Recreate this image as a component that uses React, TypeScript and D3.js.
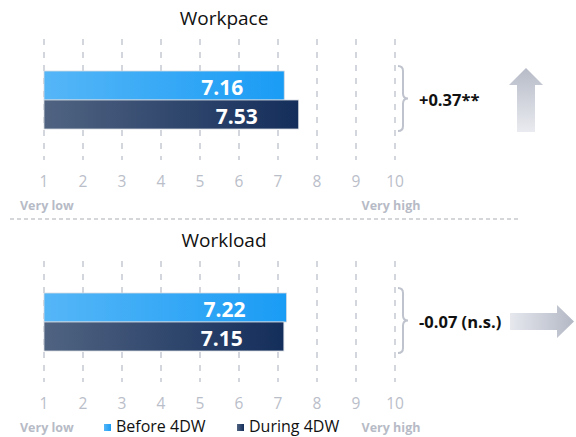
import React from "react";
import * as d3 from "d3";

const categories = ["Workpace", "Workload"];
const beforeValues = [7.16, 7.22];
const duringValues = [7.53, 7.15];
const diffLabels = ["+0.37**", "-0.07 (n.s.)"];
const arrowDirs = ["up", "right"];
const ticks = [1, 2, 3, 4, 5, 6, 7, 8, 9, 10];
const seriesNames = ["Before 4DW", "During 4DW"];

const W = 576;
const H = 437;
const FONT = "'Open Sans', 'Noto Sans', sans-serif";

export default function App() {
  const x = d3.scaleLinear().domain([1, 10]).range([44, 395]);
  const panelOffset = 222;
  const gridTop = 39;
  const gridBottom = 160;
  const y = d3
    .scaleBand<string>()
    .domain(seriesNames)
    .range([71, 129])
    .padding(0);

  const bracePath = (x0: number, y0: number, y1: number) => {
    const m = (y0 + y1) / 2;
    const p = d3.path();
    p.moveTo(x0, y0);
    p.quadraticCurveTo(x0 + 5, y0, x0 + 5, y0 + 5);
    p.lineTo(x0 + 5, m - 5);
    p.quadraticCurveTo(x0 + 5, m, x0 + 10, m);
    p.quadraticCurveTo(x0 + 5, m, x0 + 5, m + 5);
    p.lineTo(x0 + 5, y1 - 5);
    p.quadraticCurveTo(x0 + 5, y1, x0, y1);
    return p.toString();
  };

  const upArrow = () => {
    const p = d3.path();
    p.moveTo(526, 68);
    p.lineTo(543, 85);
    p.lineTo(535, 85);
    p.lineTo(535, 132);
    p.lineTo(517, 132);
    p.lineTo(517, 85);
    p.lineTo(509, 85);
    p.closePath();
    return p.toString();
  };
  const rightArrow = (dy: number) => {
    const p = d3.path();
    p.moveTo(574, 321.5 - dy);
    p.lineTo(557, 305 - dy);
    p.lineTo(557, 313 - dy);
    p.lineTo(510, 313 - dy);
    p.lineTo(510, 330 - dy);
    p.lineTo(557, 330 - dy);
    p.lineTo(557, 338 - dy);
    p.closePath();
    return p.toString();
  };

  return (
    <svg
      width={W}
      height={H}
      style={{ position: "absolute", left: 0, top: 0, fontFamily: FONT }}
    >
      <defs>
        <linearGradient id="gBefore" x1="0" x2="1" y1="0" y2="0">
          <stop offset="0%" stopColor="#55b6f7" />
          <stop offset="100%" stopColor="#1a9cf5" />
        </linearGradient>
        <linearGradient id="gDuring" x1="0" x2="1" y1="0" y2="0">
          <stop offset="0%" stopColor="#506381" />
          <stop offset="100%" stopColor="#142e5b" />
        </linearGradient>
        <linearGradient id="gUp" x1="0" x2="0" y1="0" y2="1">
          <stop offset="0%" stopColor="#b6bbc7" />
          <stop offset="100%" stopColor="#eaebf0" />
        </linearGradient>
        <linearGradient id="gRight" x1="0" x2="1" y1="0" y2="0">
          <stop offset="0%" stopColor="#e6e8ee" />
          <stop offset="100%" stopColor="#b3b8c5" />
        </linearGradient>
        <linearGradient id="gLegBefore" x1="0" x2="1">
          <stop offset="0%" stopColor="#55b6f7" />
          <stop offset="100%" stopColor="#1a9cf5" />
        </linearGradient>
        <linearGradient id="gLegDuring" x1="0" x2="1">
          <stop offset="0%" stopColor="#506381" />
          <stop offset="100%" stopColor="#142e5b" />
        </linearGradient>
      </defs>
      <rect width={W} height={H} fill="#ffffff" />

      {categories.map((cat, i) => {
        const dy = i * panelOffset;
        const vals = [beforeValues[i], duringValues[i]];
        return (
          <g key={cat} transform={`translate(0,${dy})`}>
            <text
              x={224}
              y={18}
              textAnchor="middle"
              dominantBaseline="central"
              fontSize={19}
              fill="#111"
            >
              {cat}
            </text>
            {ticks.map((t) => (
              <g key={t}>
                <line
                  x1={x(t)}
                  x2={x(t)}
                  y1={gridTop}
                  y2={gridBottom}
                  stroke="#c9ccd4"
                  strokeWidth={1.6}
                  strokeDasharray="6,7"
                />
                <text
                  x={x(t)}
                  y={181}
                  textAnchor="middle"
                  dominantBaseline="central"
                  fontSize={15.5}
                  fill="#babec9"
                >
                  {t}
                </text>
              </g>
            ))}
            {vals.map((v, j) => (
              <g key={j}>
                <rect
                  x={x(1)}
                  y={y(seriesNames[j])}
                  width={x(v) - x(1)}
                  height={y.bandwidth()}
                  fill={j === 0 ? "url(#gBefore)" : "url(#gDuring)"}
                  stroke="#d8dbe2"
                  strokeWidth={0.8}
                />
                <text
                  x={x(v) - 41}
                  y={(y(seriesNames[j]) as number) + y.bandwidth() / 2 + 1}
                  textAnchor="end"
                  dominantBaseline="central"
                  fontSize={21}
                  fontWeight={700}
                  fill="#ffffff"
                >
                  {v.toFixed(2)}
                </text>
              </g>
            ))}
            <text
              x={20}
              y={205}
              dominantBaseline="central"
              fontSize={12.5}
              fontWeight={700}
              fill="#b7bbc6"
            >
              Very low
            </text>
            <text
              x={391}
              y={205}
              textAnchor="middle"
              dominantBaseline="central"
              fontSize={12.5}
              fontWeight={700}
              fill="#b7bbc6"
            >
              Very high
            </text>
            <path
              d={bracePath(398, 66, 131)}
              fill="none"
              stroke="#bfc3cd"
              strokeWidth={2}
            />
            <text
              x={419}
              y={99}
              dominantBaseline="central"
              fontSize={16.5}
              fontWeight={700}
              fill="#111"
            >
              {diffLabels[i]}
            </text>
            {arrowDirs[i] === "up" ? (
              <path d={upArrow()} fill="url(#gUp)" />
            ) : (
              <path d={rightArrow(dy)} fill="url(#gRight)" />
            )}
          </g>
        );
      })}

      <line
        x1={10}
        x2={520}
        y1={219}
        y2={219}
        stroke="#a9adb6"
        strokeWidth={1.2}
        strokeDasharray="4,3"
      />

      {seriesNames.map((s, j) => {
        const lx = j === 0 ? 104 : 237;
        return (
          <g key={s}>
            <rect
              x={lx}
              y={424}
              width={7}
              height={7}
              fill={j === 0 ? "url(#gLegBefore)" : "url(#gLegDuring)"}
            />
            <text
              x={lx + 12}
              y={426}
              dominantBaseline="central"
              fontSize={16}
              fill="#111"
            >
              {s}
            </text>
          </g>
        );
      })}
    </svg>
  );
}
